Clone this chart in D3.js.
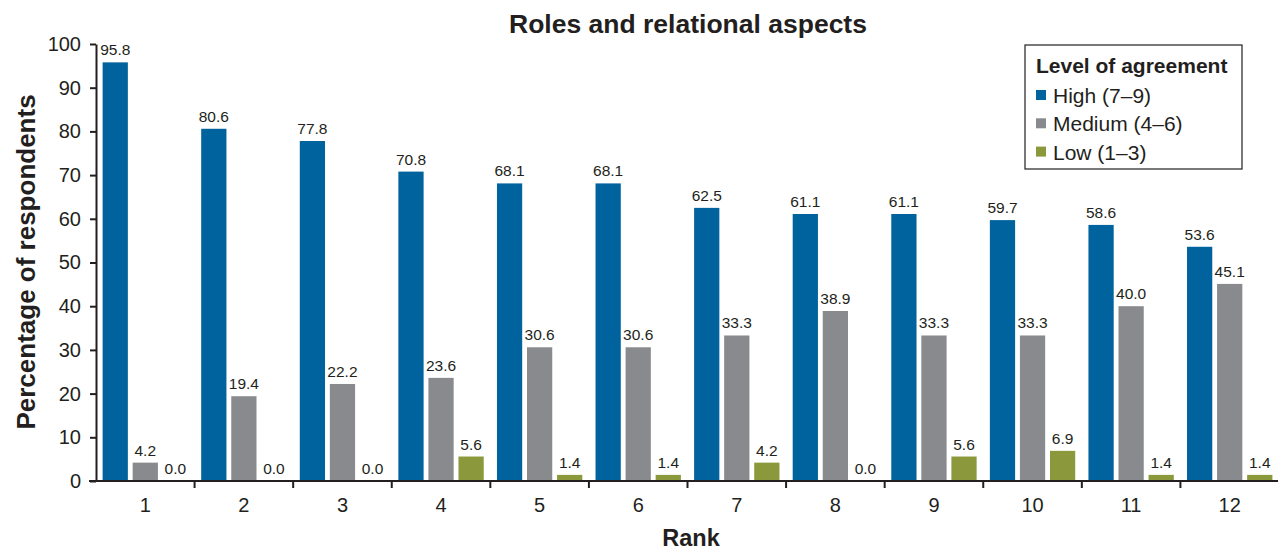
<!DOCTYPE html>
<html>
<head>
<meta charset="utf-8">
<script src="https://cdn.jsdelivr.net/npm/d3@7"></script>
<style>
  body { margin: 0; background: #fff; }
  svg text { font-family: "Liberation Sans", Arial, sans-serif; fill: #231f20; }
</style>
</head>
<body>
<svg id="chart" width="1278" height="550"></svg>
<script>
// chart data
var ranks = ["1", "2", "3", "4", "5", "6", "7", "8", "9", "10", "11", "12"];
var seriesNames = ["High (7\u20139)", "Medium (4\u20136)", "Low (1\u20133)"];
var high = [95.8, 80.6, 77.8, 70.8, 68.1, 68.1, 62.5, 61.1, 61.1, 59.7, 58.6, 53.6];
var medium = [4.2, 19.4, 22.2, 23.6, 30.6, 30.6, 33.3, 38.9, 33.3, 33.3, 40.0, 45.1];
var low = [0.0, 0.0, 0.0, 5.6, 1.4, 1.4, 4.2, 0.0, 5.6, 6.9, 1.4, 1.4];
var yTicks = [0, 10, 20, 30, 40, 50, 60, 70, 80, 90, 100];

var colors = ["#00639e", "#888a8d", "#8b983c"];
var ink = "#231f20";

var svg = d3.select("#chart"),
	width = +svg.attr("width"),
	height = +svg.attr("height");

// plot area edges
var mLeft = 96, mRight = 1279, mTop = 44, mBottom = 481;

var x = d3.scaleBand().domain(ranks).range([mLeft, mRight]).padding(0);
var inner = d3.scaleBand().domain(d3.range(3))
	.range([0, x.bandwidth()])
	.paddingInner(0.16).paddingOuter(0.22);
var y = d3.scaleLinear().domain([0, 100]).range([mBottom, mTop]);

var series = [high, medium, low];

// bars and value labels
var groups = svg.append("g")
	.selectAll("g")
	.data(ranks)
	.enter().append("g")
		.attr("transform", d => `translate(${x(d)},0)`);

groups.each(function(r, i) {
	var g = d3.select(this);
	for (var s = 0; s < 3; s++) {
		var v = series[s][i];
		g.append("rect")
			.attr("x", inner(s))
			.attr("y", y(v))
			.attr("width", inner.bandwidth())
			.attr("height", mBottom - y(v))
			.attr("fill", colors[s]);
		g.append("text")
			.attr("x", inner(s) + inner.bandwidth() / 2)
			.attr("y", y(v) - 7)
			.attr("text-anchor", "middle")
			.attr("font-size", 15.5)
			.text(v.toFixed(1));
	}
});

// y axis
var yAxis = svg.append("g")
	.attr("transform", `translate(${mLeft},0)`)
	.call(d3.axisLeft(y).tickValues(yTicks).tickSize(6).tickSizeOuter(0).tickPadding(9));
yAxis.select(".domain").attr("stroke", ink).attr("stroke-width", 2);
yAxis.selectAll(".tick line").attr("stroke", ink).attr("stroke-width", 2);
yAxis.selectAll(".tick text").attr("font-size", 20).attr("fill", ink)
	.attr("font-family", "Liberation Sans, Arial, sans-serif");

// x axis: ticks sit between the groups
var xAxis = svg.append("g")
	.attr("transform", `translate(0,${mBottom})`);
xAxis.append("line")
	.attr("x1", mLeft - 7).attr("x2", mRight)
	.attr("stroke", ink).attr("stroke-width", 2);
xAxis.selectAll("line.sep")
	.data(ranks.slice(1))
	.enter().append("line")
		.attr("class", "sep")
		.attr("x1", d => x(d)).attr("x2", d => x(d))
		.attr("y1", 0).attr("y2", 7)
		.attr("stroke", ink).attr("stroke-width", 2);
xAxis.selectAll("text")
	.data(ranks)
	.enter().append("text")
		.attr("x", d => x(d) + x.bandwidth() / 2)
		.attr("y", 31)
		.attr("text-anchor", "middle")
		.attr("font-size", 20)
		.text(d => d);

// titles
svg.append("text")
	.attr("x", 688).attr("y", 33)
	.attr("text-anchor", "middle")
	.attr("font-size", 26.5).attr("font-weight", "bold")
	.text("Roles and relational aspects");

svg.append("text")
	.attr("x", 691).attr("y", 546)
	.attr("text-anchor", "middle")
	.attr("font-size", 23.5).attr("font-weight", "bold")
	.text("Rank");

svg.append("text")
	.attr("transform", "translate(35,262) rotate(-90)")
	.attr("text-anchor", "middle")
	.attr("font-size", 26).attr("font-weight", "bold")
	.text("Percentage of respondents");

// legend
var legend = svg.append("g").attr("transform", "translate(1025,45)");
legend.append("rect")
	.attr("width", 217).attr("height", 124)
	.attr("fill", "#fff").attr("stroke", ink).attr("stroke-width", 1.2);
legend.append("text")
	.attr("x", 11).attr("y", 28)
	.attr("font-size", 21).attr("font-weight", "bold")
	.text("Level of agreement");
var items = legend.selectAll("g.item")
	.data(seriesNames)
	.enter().append("g")
		.attr("class", "item")
		.attr("transform", (d, i) => `translate(11,${58 + i * 28.3})`);
items.append("rect")
	.attr("x", 0).attr("y", -13)
	.attr("width", 10).attr("height", 10)
	.attr("fill", (d, i) => colors[i]);
items.append("text")
	.attr("x", 17).attr("y", 0)
	.attr("font-size", 21)
	.text(d => d);
</script>
</body>
</html>
